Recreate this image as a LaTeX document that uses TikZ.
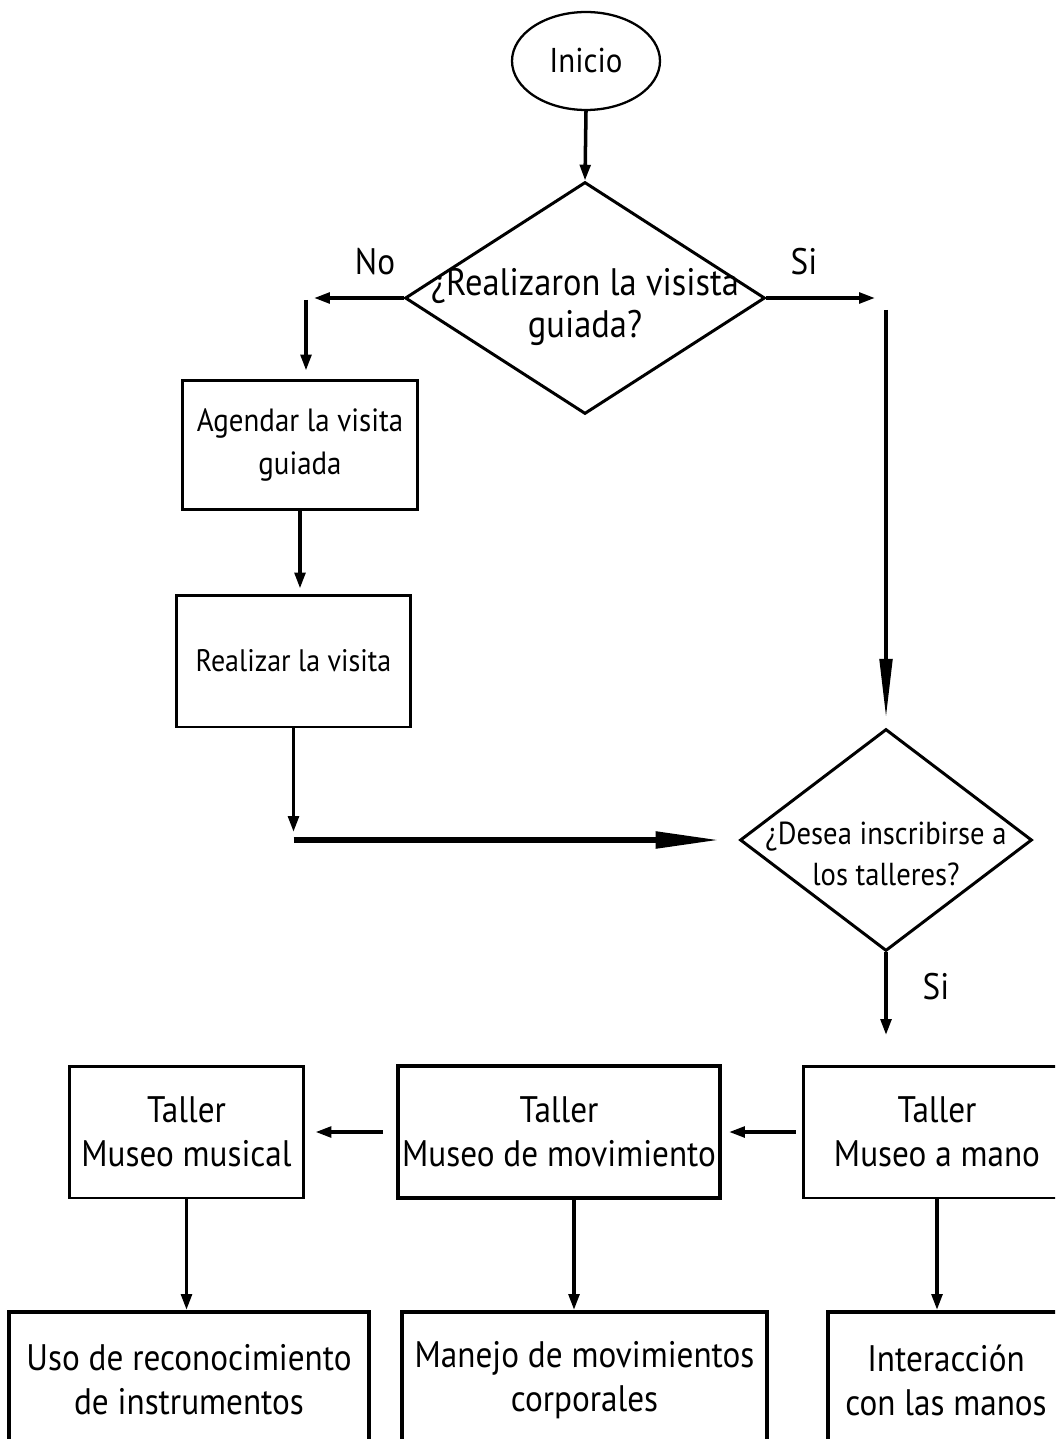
\documentclass[tikz,border=0pt]{standalone}
\usepackage{fontspec}
\setmainfont{PT Sans}[FakeStretch=0.9]
\usetikzlibrary{shapes.geometric,arrows.meta,calc}

\begin{document}
\begin{tikzpicture}[x=0.02cm, y=-0.02cm,
  every node/.style={font=\fontsize{21}{25}\selectfont},
  letra/.style={font=\fontsize{#1}{24}\selectfont},
  caja/.style={draw, line width=1.7pt, align=center, inner sep=0pt},
  cajagruesa/.style={caja, line width=2.3pt},
  pregunta/.style={draw, diamond, line width=1.7pt, inner sep=0pt},
  flecha/.style={line width=2pt, -{Triangle[length=9pt, width=6pt]}},
  flechagruesa/.style={line width=3.4pt, -{Triangle[length=37pt, width=9pt]}},
  flechalarga/.style={line width=2.4pt, -{Triangle[length=34pt, width=7pt]}}]
\useasboundingbox (0,0) rectangle (1055,1439);
\clip (0,0) rectangle (1055,1439);
\node[draw, ellipse, line width=1.3pt, minimum width=2.96cm, minimum height=1.96cm, inner sep=0pt, letra=19.6] (inicio) at (586,61) {Inicio};
\node[pregunta, minimum width=7.2cm, minimum height=4.64cm, label={[align=center, yshift=-5pt, letra=21.8]center:{¿Realizaron la visista\\guiada?}}] (preg_visita) at (585,298) {};
\node[caja, minimum width=4.72cm, minimum height=2.6cm, letra=18.3] (agendar) at (300,445) {Agendar la visita\\guiada};
\node[caja, minimum width=4.7cm, minimum height=2.64cm, letra=17.7] (realizar) at (293.5,661) {Realizar la visita};
\node[pregunta, minimum width=5.84cm, minimum height=4.44cm, label={[align=center, yshift=-8pt, font=\fontsize{18.1}{23}\selectfont]center:{¿Desea inscribirse a\\los talleres?}}] (preg_talleres) at (886,840) {};
\node[caja, minimum width=4.7cm, minimum height=2.64cm] (taller_musical) at (186.5,1132) {Taller\\Museo musical};
\node[cajagruesa, minimum width=6.44cm, minimum height=2.64cm] (taller_movimiento) at (559,1132) {Taller\\Museo de movimiento};
\node[caja, minimum width=5.36cm, minimum height=2.64cm] (taller_mano) at (937,1132) {Taller\\Museo a mano};
\node[cajagruesa, minimum width=7.2cm, minimum height=2.72cm] (uso) at (189,1380) {Uso de reconocimiento\\de instrumentos};
\node[cajagruesa, minimum width=7.3cm, minimum height=2.72cm] (manejo) at (584.5,1380) {Manejo de movimientos\\corporales};
\node[cajagruesa, minimum width=4.72cm, minimum height=2.72cm] (interaccion) at (946,1380) {Interacción\\con las manos};
\node (txt_no) at (375,262) {No};
\node (txt_si) at (804,262) {Si};
\node (txt_si_dos) at (936,987) {Si};
\coordinate (no_fin) at (314,298);
\coordinate (no_ini) at (306,300);
\coordinate (si_fin) at (875,298);
\coordinate (si_ini) at (886,310);
\coordinate (visita_fin) at (293.5,832);
\coordinate (talleres_fin) at (886,1035);
\draw[flecha] (inicio.south) -- (preg_visita.north);
\draw[flecha] (preg_visita.west) -- (no_fin);
\draw[flecha, shorten >=0.16cm] (no_ini) -- (no_ini |- agendar.north);
\draw[flecha, shorten >=0.1cm] (agendar.south) -- (agendar.south |- realizar.north);
\draw[flecha] (realizar.south) -- (visita_fin);
\draw[flechagruesa, shorten >=0.36cm] (visita_fin |- preg_talleres.west) -- (preg_talleres.west);
\draw[flecha] (preg_visita.east) -- (si_fin);
\draw[flechalarga, shorten >=0.18cm] (si_ini) -- (preg_talleres.north);
\draw[flecha] (preg_talleres.south) -- (talleres_fin);
\draw[flecha, shorten <=0.12cm, shorten >=0.14cm] (taller_mano.west) -- (taller_movimiento.east);
\draw[flecha, shorten <=0.26cm, shorten >=0.2cm] (taller_movimiento.west) -- (taller_musical.east);
\draw[flecha] (taller_musical.south) -- (taller_musical.south |- uso.north);
\draw[flecha] ($(taller_movimiento.south)+(15,0)$) -- ($(taller_movimiento.south |- manejo.north)+(15,0)$);
\draw[flecha] (taller_mano.south) -- (taller_mano.south |- interaccion.north);
\end{tikzpicture}
\end{document}
